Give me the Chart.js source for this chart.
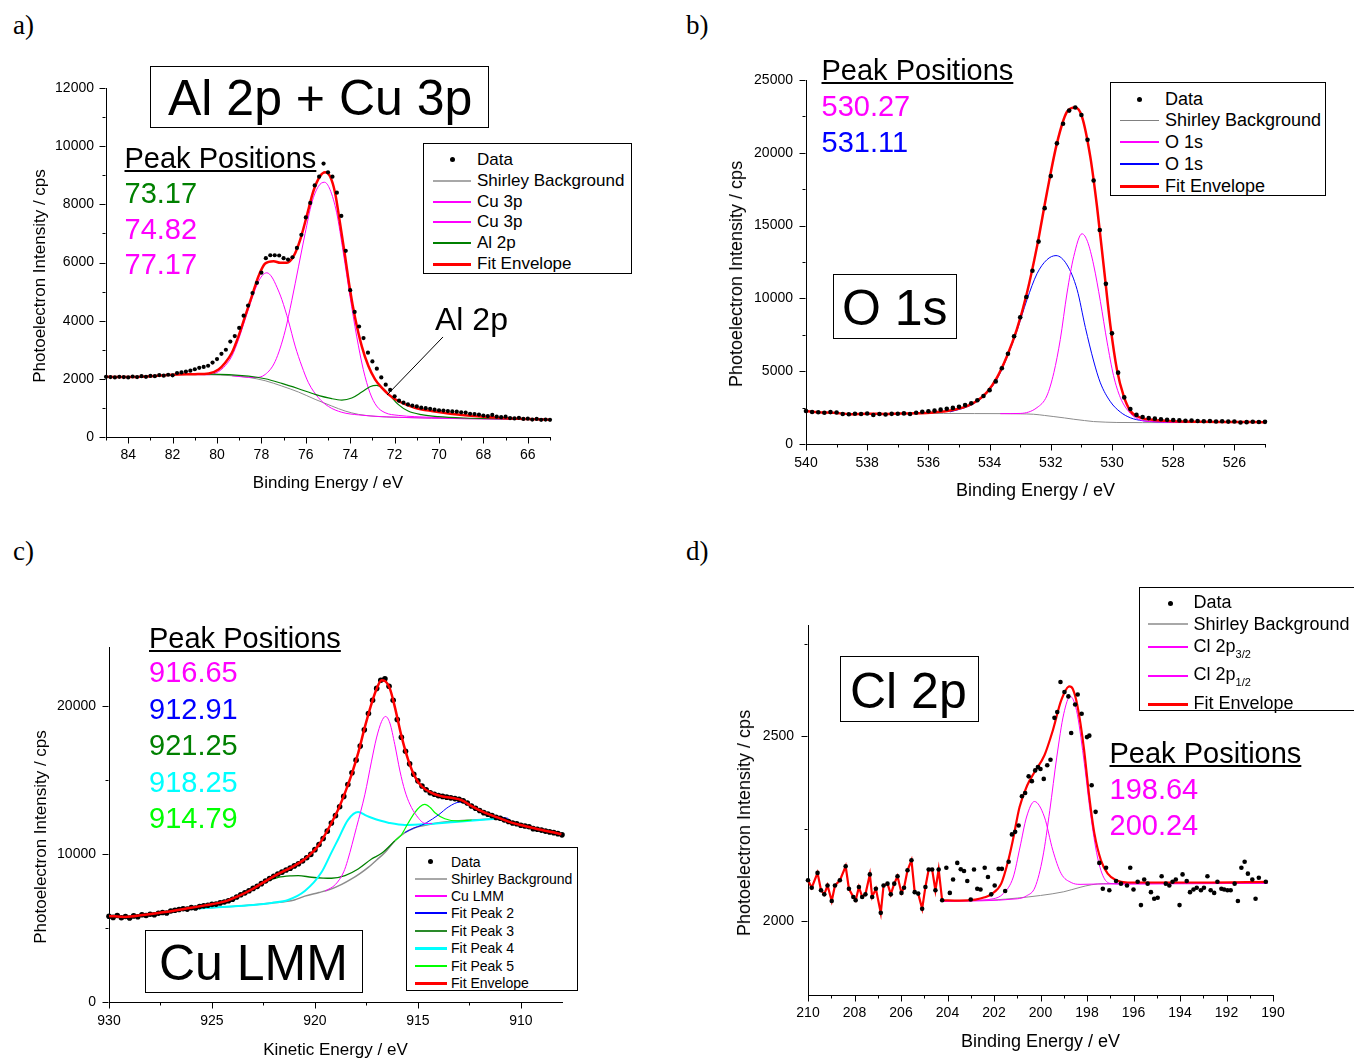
<!DOCTYPE html>
<html>
<head>
<meta charset="utf-8">
<title>XPS spectra</title>
<script src="https://cdn.jsdelivr.net/npm/chart.js@4.4.1/dist/chart.umd.min.js"></script>
<style>
  html, body { margin: 0; padding: 0; background: #fff; }
  #page { position: relative; width: 1354px; height: 1058px; overflow: hidden; background: #fff; }
  #page canvas { position: absolute; }
  .txt { position: absolute; white-space: nowrap; line-height: 1; color: #000; }
  .box { position: absolute; box-sizing: border-box; border: 1px solid #000; background: #fff; }
  .sw { position: absolute; }
  .dot { position: absolute; width: 5px; height: 5px; border-radius: 50%; background: #000; }
</style>
</head>
<body>
<div id="page"></div>
<script>
// ---------------- a) Al 2p + Cu 3p : [binding energy (eV), counts] ----------------
const aData = [
  [85.0,2070],[84.8,2060],[84.6,2050],[84.4,2070],[84.2,2060],[84.0,2050],[83.8,2080],[83.6,2060],[83.4,2090],[83.2,2070],
  [83.0,2100],[82.8,2090],[82.6,2130],[82.4,2110],[82.2,2140],[82.0,2120],[81.8,2200],[81.6,2220],[81.4,2250],[81.2,2280],
  [81.0,2330],[80.8,2380],[80.6,2410],[80.4,2450],[80.2,2560],[80.0,2680],[79.8,2860],[79.6,3000],[79.4,3280],[79.2,3470],
  [79.0,3750],[78.8,4170],[78.6,4520],[78.4,4950],[78.2,5300],[78.0,5650],[77.8,6150],[77.6,6250],[77.4,6250],[77.2,6240],
  [77.0,6150],[76.8,6100],[76.6,6180],[76.4,6500],[76.2,6950],[76.0,7550],[75.8,8050],[75.6,8650],[75.4,8950],[75.2,9400],
  [75.0,9100],[74.8,8950],[74.6,8400],[74.4,7600],[74.2,6400],[74.0,5050],[73.8,4300],[73.6,3800],[73.4,3400],[73.2,2900],
  [73.0,2600],[72.8,2350],[72.6,2050],[72.4,1800],[72.2,1620],[72.0,1400],[71.8,1250],[71.6,1180],[71.4,1120],[71.2,1080],
  [71.0,1050],[70.8,1010],[70.6,990],[70.4,970],[70.2,940],[70.0,920],[69.8,910],[69.6,890],[69.4,880],[69.2,870],
  [69.0,850],[68.8,840],[68.6,800],[68.4,790],[68.2,770],[68.0,740],[67.8,720],[67.6,760],[67.4,700],[67.2,680],
  [67.0,700],[66.8,650],[66.6,640],[66.4,660],[66.2,620],[66.0,630],[65.8,600],[65.6,620],[65.4,590],[65.2,600],[65.0,590]
];
const aEnvelope = [
  [85.0,2070],[84.0,2060],[83.0,2090],[82.0,2140],[81.0,2160],[80.37,2187],[79.93,2324],[79.63,2553],[79.33,2897],[79.03,3469],
  [78.73,4156],[78.43,4843],[78.13,5530],[77.83,5965],[77.45,6046],[77.15,5988],[76.85,5988],[76.55,6217],[76.25,6790],[75.96,7591],
  [75.66,8450],[75.36,8965],[75.13,9103],[74.91,8965],[74.68,8393],[74.46,7362],[74.23,6217],[74.01,5072],[73.78,4099],[73.48,3126],
  [73.18,2439],[72.88,1981],[72.58,1695],[72.28,1466],[71.84,1237],[71.09,1008],[70.34,893],[68.84,744],[67.34,664],[66.0,620],[65.0,590]
];
const aShirley = [
  [82.0,2150],[81.0,2145],[80.37,2141],[79.33,2107],[78.58,2050],[77.83,1935],[77.08,1752],[76.33,1546],[75.58,1294],[74.83,1065],
  [74.23,893],[73.63,779],[72.88,710],[71.84,676],[68.84,630],[65.2,607]
];
const aAl2p = [
  [82.0,2155],[80.37,2164],[78.58,2095],[77.83,2004],[77.08,1843],[76.33,1660],[75.58,1466],[74.83,1317],[74.38,1271],[73.93,1340],
  [73.48,1546],[73.11,1729],[72.81,1775],[72.51,1660],[72.21,1431],[71.84,1122],[71.39,893],[70.79,767],[70.04,698],[68.84,653],[65.2,610]
];
const aCu3pHigh = [
  [81.0,2145],[80.37,2141],[79.93,2250],[79.63,2450],[79.33,2780],[79.03,3350],[78.73,4050],[78.43,4750],[78.13,5350],[77.9,5600],
  [77.75,5645],[77.53,5500],[77.3,5150],[77.08,4729],[76.78,3985],[76.48,3126],[76.18,2439],[75.88,1866],[75.43,1350],[74.98,1050],
  [74.38,850],[73.63,760],[72.58,700],[71.84,676],[68.84,630],[65.2,607]
];
const aCu3pLow = [
  [79.33,2107],[78.58,2050],[78.28,2045],[77.83,2150],[77.38,2600],[76.93,3650],[76.63,4700],[76.33,5850],[76.03,7000],[75.73,8050],
  [75.43,8620],[75.16,8760],[74.91,8510],[74.61,7710],[74.31,6330],[74.01,4840],[73.71,3470],[73.41,2320],[73.11,1520],[72.81,1065],
  [72.43,836],[71.84,744],[71.09,700],[68.84,640],[65.2,607]
];
const aPointer = [[69.82,3440],[72.34,1445]];
const aPeakLabels = ['73.17', '74.82', '77.17'];
const aPeakColors = ['#008000', '#ff00ff', '#ff00ff'];
const aXMajor = [66, 68, 70, 72, 74, 76, 78, 80, 82, 84];
const aXMinor = [65, 67, 69, 71, 73, 75, 77, 79, 81, 83, 85];
const aYMajor = [0, 2000, 4000, 6000, 8000, 10000, 12000];
const aYMinor = [1000, 3000, 5000, 7000, 9000, 11000];

// ---------------- b) O 1s ----------------
const bData = [
  [540.0,2270],[539.8,2200],[539.6,2180],[539.4,2150],[539.2,2190],[539.0,2160],[538.8,2060],[538.6,2040],[538.4,2080],[538.2,2060],
  [538.0,2090],[537.8,1990],[537.6,2060],[537.4,2030],[537.2,2070],[537.0,2080],[536.8,2100],[536.6,2060],[536.4,2150],[536.2,2210],
  [536.0,2250],[535.8,2290],[535.6,2360],[535.4,2420],[535.2,2480],[535.0,2560],[534.8,2670],[534.6,2800],[534.4,3000],[534.2,3300],
  [534.0,3700],[533.8,4300],[533.6,5200],[533.4,6200],[533.2,7400],[533.0,8700],[532.8,10100],[532.6,11900],[532.4,13900],[532.2,16200],
  [532.0,18400],[531.8,20650],[531.6,22000],[531.4,22900],[531.2,23115],[531.0,22600],[530.8,20900],[530.6,18100],[530.4,14700],[530.2,11000],
  [530.0,7600],[529.8,4900],[529.6,3200],[529.4,2400],[529.2,2000],[529.0,1850],[528.8,1780],[528.6,1740],[528.4,1700],[528.2,1660],
  [528.0,1650],[527.8,1620],[527.6,1600],[527.4,1610],[527.2,1580],[527.0,1560],[526.8,1580],[526.6,1550],[526.4,1560],[526.2,1540],
  [526.0,1550],[525.8,1480],[525.6,1500],[525.4,1530],[525.2,1510],[525.0,1520]
];
const bEnvelope = [
  [540.0,2260],[539.6,2180],[539.1,2150],[538.56,2050],[538.0,2080],[537.47,2060],[536.9,2090],[536.38,2110],[535.83,2170],[535.29,2300],
  [534.74,2600],[534.42,2950],[534.09,3550],[533.76,4554],[533.43,6038],[533.11,7865],[532.78,10376],[532.45,13573],[532.13,17225],[531.8,20650],
  [531.47,22818],[531.2,23115],[530.98,22475],[530.71,19735],[530.49,16310],[530.27,12201],[530.05,8092],[529.84,5124],[529.62,3298],[529.4,2271],
  [529.07,1815],[528.64,1655],[528.2,1587],[527.11,1530],[526.0,1510],[525.0,1500]
];
const bShirley = [
  [536.4,2100],[535.5,2095],[534.5,2090],[533.5,2085],[533.0,2070],[532.56,2043],[532.2,1960],[531.9,1883],[531.55,1790],[531.25,1700],
  [530.9,1610],[530.6,1541],[530.2,1500],[529.84,1478],[529.0,1470],[527.0,1472],[525.0,1478]
];
const bO1sLow = [
  [533.65,2085],[533.0,2100],[532.45,2500],[532.13,3300],[531.9,4900],[531.69,7180],[531.47,10370],[531.25,12880],[530.98,14440],[530.8,13900],
  [530.6,12300],[530.38,9800],[530.16,7000],[529.95,4700],[529.73,3200],[529.4,2100],[529.07,1650],[528.64,1530],[528.0,1490],[525.0,1480]
];
const bO1sHigh = [
  [535.3,2200],[534.74,2550],[534.42,2900],[534.09,3500],[533.76,4450],[533.43,5950],[533.11,7750],[532.78,9900],[532.45,11700],[532.13,12650],
  [531.83,12940],[531.47,12300],[531.14,10600],[530.87,8000],[530.6,5700],[530.38,4200],[530.05,2900],[529.73,2200],[529.4,1800],[529.0,1600],
  [528.5,1520],[527.5,1485],[525.0,1480]
];
const bPeakLabels = ['530.27', '531.11'];
const bPeakColors = ['#ff00ff', '#0000ff'];
const bXMajor = [526, 528, 530, 532, 534, 536, 538, 540];
const bXMinor = [525, 527, 529, 531, 533, 535, 537, 539];
const bYMajor = [0, 5000, 10000, 15000, 20000, 25000];
const bYMinor = [2500, 7500, 12500, 17500, 22500];

// ---------------- c) Cu LMM : [kinetic energy (eV), counts] ----------------
const cData = [
  [930.0,5800],[929.8,5720],[929.6,5850],[929.4,5700],[929.2,5780],[929.0,5680],[928.8,5820],[928.6,5760],[928.4,5900],[928.2,5850],
  [928.0,5930],[927.8,5900],[927.6,6000],[927.4,6050],[927.2,6020],[927.0,6150],[926.8,6200],[926.6,6250],[926.4,6300],[926.2,6280],
  [926.0,6380],[925.8,6350],[925.6,6450],[925.4,6500],[925.2,6540],[925.0,6600],[924.8,6620],[924.6,6700],[924.4,6760],[924.2,6850],
  [924.0,6950],[923.8,7100],[923.6,7250],[923.4,7380],[923.2,7520],[923.0,7680],[922.8,7820],[922.6,8000],[922.4,8180],[922.2,8350],
  [922.0,8500],[921.8,8650],[921.6,8780],[921.4,8920],[921.2,9050],[921.0,9200],[920.8,9350],[920.6,9530],[920.4,9750],[920.2,9980],
  [920.0,10300],[919.8,10650],[919.6,11050],[919.4,11550],[919.2,12100],[919.0,12600],[918.8,13200],[918.6,13900],[918.4,14700],[918.2,15500],
  [918.0,16350],[917.8,17300],[917.6,18400],[917.4,19500],[917.2,20400],[917.0,21200],[916.8,21750],[916.6,21850],[916.4,21350],[916.2,20400],
  [916.0,19100],[915.8,17900],[915.6,16950],[915.4,16100],[915.2,15400],[915.0,14950],[914.8,14600],[914.6,14350],[914.4,14150],[914.2,14050],
  [914.0,13950],[913.8,13900],[913.6,13850],[913.4,13800],[913.2,13750],[913.0,13700],[912.8,13600],[912.6,13450],[912.4,13250],[912.2,13100],
  [912.0,12950],[911.8,12800],[911.6,12700],[911.4,12600],[911.2,12480],[911.0,12420],[910.8,12300],[910.6,12200],[910.4,12100],[910.2,12050],
  [910.0,11950],[909.8,11900],[909.6,11850],[909.4,11720],[909.2,11680],[909.0,11620],[908.8,11550],[908.6,11500],[908.4,11450],[908.2,11380],[908.0,11300]
];
const cEnvelope = [
  [930.0,5816],[929.22,5750],[928.25,5906],[927.28,6085],[926.3,6308],[925.34,6532],[924.37,6800],[923.72,7158],[923.07,7606],[922.43,8143],
  [921.78,8657],[921.13,9105],[920.49,9664],[919.84,10558],[919.19,12124],[918.87,13019],[918.54,14138],[918.22,15368],[917.9,16822],[917.57,18612],
  [917.25,20178],[917.0,21184],[916.76,21744],[916.6,21700],[916.36,21184],[916.12,19954],[915.79,17941],[915.47,16375],[915.15,15256],[914.82,14585],
  [914.34,14138],[913.85,13914],[913.37,13802],[912.88,13646],[912.39,13243],[911.75,12796],[911.1,12460],[910.45,12124],[909.81,11901],[909.16,11677],
  [908.51,11498],[908.03,11341]
];
const cShirley = [
  [926.5,6250],[926.3,6264],[925.0,6380],[923.72,6487],[922.1,6689],[921.0,6900],[920.49,7158],[919.8,7400],[919.19,7650],[918.7,7950],
  [918.22,8322],[917.8,8700],[917.41,9105],[917.0,9600],[916.6,10111],[916.12,10894],[915.63,11453],[915.2,11750],[914.82,11901],[914.0,12124],
  [913.0,12260],[912.39,12303],[911.5,12380],[910.78,12437]
];
const cCuLMM = [
  [919.5,7500],[919.0,7950],[918.6,8800],[918.41,9574],[917.98,11811],[917.57,14048],[917.25,16285],[917.01,17851],[916.76,18969],[916.57,19305],
  [916.36,18857],[916.12,17403],[915.87,15614],[915.63,14272],[915.39,13377],[915.06,12594],[914.66,12079],[914.3,12060]
];
const cPeak2 = [
  [915.63,11453],[915.2,11760],[914.82,11950],[914.58,12124],[914.0,12650],[913.5,13200],[912.96,13512],[912.39,13243],[911.75,12840],[911.1,12527],[910.61,12415]
];
const cPeak3 = [
  [925.5,6400],[924.37,6800],[923.72,7158],[923.07,7606],[922.43,8100],[921.78,8420],[921.13,8530],[920.81,8545],[920.16,8433],[919.6,8380],
  [919.19,8366],[918.54,8545],[917.9,8993],[917.25,9664],[916.76,10050],[916.12,10894]
];
const cPeak4 = [
  [926.3,6264],[924.5,6420],[923.0,6560],[922.1,6700],[921.3,6900],[920.49,7500],[919.68,8769],[919.2,10100],[918.87,11006],[918.4,12300],
  [917.9,12840],[917.5,12600],[917.25,12460],[916.8,12250],[916.44,12124],[915.63,11968],[914.66,12013],[913.2,12169],[912.0,12300],[910.78,12437]
];
const cPeak5 = [
  [916.12,10894],[915.8,11300],[915.47,12100],[915.15,12800],[914.9,13200],[914.66,13355],[914.4,13150],[914.17,12796],[913.69,12393],[913.04,12236],[912.39,12303]
];
const cPeakLabels = ['916.65', '912.91', '921.25', '918.25', '914.79'];
const cPeakColors = ['#ff00ff', '#0000ff', '#008000', '#00ffff', '#00ff00'];
const cXMajor = [910, 915, 920, 925, 930];
const cXMinor = [912.5, 917.5, 922.5, 927.5];
const cYMajor = [0, 10000, 20000];
const cYMinor = [5000, 15000];

// ---------------- d) Cl 2p ----------------
const dData = [
  [210.0,2110],[209.84,2090],[209.59,2130],[209.44,2083],[209.3,2072],[209.16,2096],[208.98,2054],[208.84,2096],[208.63,2110],[208.38,2148],
  [208.24,2087],[208.05,2065],[207.95,2056],[207.81,2092],[207.67,2065],[207.53,2072],[207.34,2126],[207.24,2065],[207.08,2087],[206.87,2022],
  [206.75,2096],[206.58,2101],[206.44,2072],[206.29,2101],[206.15,2121],[205.98,2076],[205.87,2090],[205.72,2137],[205.55,2164],[205.41,2078],
  [205.26,2074],[205.09,2033],[204.95,2092],[204.81,2139],[204.66,2139],[204.52,2083],[204.38,2139],[204.23,2056],
  [204.05,2144],[203.9,2076],[203.76,2112],[203.58,2157],[203.43,2140],[203.29,2135],[203.15,2108],[203.0,2058],[202.86,2139],[202.72,2087],
  [202.58,2085],[202.4,2144],[202.26,2119],[202.12,2072],[201.97,2096],[201.8,2141],[201.66,2141],[201.52,2081],[201.37,2160],[201.23,2234],
  [201.09,2241],[200.94,2258],[200.8,2337],[200.66,2346],[200.51,2391],[200.37,2378],[200.23,2407],[200.11,2416],[200.0,2411],[199.86,2384],
  [199.71,2421],[199.57,2436],[199.4,2549],[199.28,2565],[199.14,2646],[198.97,2619],[198.8,2607],[198.68,2508],[198.51,2585],[198.4,2612],
  [198.23,2560],[198.0,2497],[197.9,2501],[197.8,2367],[197.63,2295],[197.47,2157],[197.32,2087],[197.18,2144],[197.04,2083],[196.75,2108],
  [196.54,2101],[196.28,2096],[196.14,2144],[196.0,2085],[195.82,2106],[195.68,2043],[195.54,2112],[195.39,2101],[195.25,2078],[195.11,2060],
  [194.96,2063],[194.79,2121],[194.61,2101],[194.46,2096],[194.32,2106],[194.18,2112],[194.02,2043],[193.89,2126],[193.71,2108],[193.57,2078],
  [193.42,2085],[193.28,2090],[193.1,2083],[192.97,2090],[192.82,2121],[192.68,2083],[192.53,2076],[192.39,2106],[192.22,2087],[192.1,2085],
  [191.96,2083],[191.82,2083],[191.65,2101],[191.51,2054],[191.36,2144],[191.22,2160],[191.08,2128],[190.89,2112],[190.75,2060],[190.61,2117],[190.31,2106]
];
const dFitStart = 204.23;   // the envelope follows the raw counts above this energy
const dEnvelopeFit = [
  [204.23,2056],[203.5,2055],[202.8,2058],[202.4,2064],[202.12,2072],[201.69,2101],[201.4,2160],[201.19,2218],[200.9,2308],[200.57,2367],
  [200.26,2402],[199.83,2448],[199.47,2515],[199.11,2596],[198.76,2634],[198.61,2627],[198.4,2578],[198.14,2470],[197.9,2335],[197.68,2236],
  [197.4,2164],[197.11,2128],[196.75,2110],[196.25,2104],[193.0,2104],[190.24,2106]
];
const dShirley = [
  [204.23,2053],[202.0,2057],[201.0,2062],[200.0,2069],[199.0,2079],[198.3,2091],[197.8,2098],[197.3,2101],[190.24,2102]
];
const dCl2p32 = [
  [204.23,2053],[201.0,2060],[200.6,2068],[200.23,2092],[199.9,2173],[199.6,2299],[199.3,2443],[199.0,2560],[198.72,2607],[198.45,2569],
  [198.15,2443],[197.85,2290],[197.55,2173],[197.25,2114],[196.9,2101],[196.4,2100],[190.24,2102]
];
const dCl2p12 = [
  [204.23,2053],[202.9,2056],[202.04,2060],[201.6,2074],[201.17,2119],[200.88,2200],[200.6,2281],[200.26,2323],[199.83,2281],[199.47,2191],
  [199.11,2128],[198.68,2104],[198.3,2099],[197.5,2100],[190.24,2102]
];
const dPeakLabels = ['198.64', '200.24'];
const dPeakColors = ['#ff00ff', '#ff00ff'];
const dXMajor = [190, 192, 194, 196, 198, 200, 202, 204, 206, 208, 210];
const dXMinor = [191, 193, 195, 197, 199, 201, 203, 205, 207, 209];
const dYMajor = [2000, 2500];
const dYMinor = [2250, 2750];

// ---------------- drawing ----------------
const SANS = "'Liberation Sans', Arial, Helvetica, sans-serif";
const SERIF = "'Liberation Serif', 'Times New Roman', serif";
const RED = '#ff0000', GRAY = '#8c8c8c', MAGENTA = '#ff00ff', BLUE = '#0000ff',
      DKGREEN = '#008000', CYAN = '#00ffff', LTGREEN = '#00ff00';
const page = document.getElementById('page');

const toXY = arr => arr.map(([x, y]) => ({ x, y }));

function curve(arr, color, width, order) {
  return { data: toXY(arr), borderColor: color, backgroundColor: color, borderWidth: width,
           pointRadius: 0, cubicInterpolationMode: 'monotone', fill: false, order, clip: false };
}
function polyline(arr, color, width, order) {
  return { data: toXY(arr), borderColor: color, backgroundColor: color, borderWidth: width,
           pointRadius: 0, tension: 0, fill: false, order, clip: false };
}
function dots(arr, radius, order) {
  return { data: toXY(arr), showLine: false, pointRadius: radius, pointBorderWidth: 0,
           pointBackgroundColor: '#000', pointBorderColor: '#000', order, clip: false };
}

// outward tick marks, long for labelled ticks and short for the others
const tickMarks = {
  id: 'tickMarks',
  afterDraw(chart, args, opts) {
    const { ctx, chartArea: ca } = chart;
    const sx = chart.scales.x, sy = chart.scales.y;
    const xb = Math.round(ca.bottom) + 0.5, yl = Math.round(ca.left) - 0.5;
    ctx.save();
    ctx.strokeStyle = '#000';
    ctx.lineWidth = 1;
    ctx.beginPath();
    sx.ticks.forEach(t => {
      const p = Math.round(sx.getPixelForValue(t.value)) + 0.5;
      const len = opts.xMajor.includes(t.value) ? 6 : 3;
      ctx.moveTo(p, xb); ctx.lineTo(p, xb + len);
    });
    sy.ticks.forEach(t => {
      const p = Math.round(sy.getPixelForValue(t.value)) + 0.5;
      const len = opts.yMajor.includes(t.value) ? 6 : 3;
      ctx.moveTo(yl, p); ctx.lineTo(yl - len, p);
    });
    ctx.stroke();
    ctx.restore();
  }
};

// thin pointer line from a label to a peak, given in data coordinates
const pointerLine = {
  id: 'pointerLine',
  afterDatasetsDraw(chart, args, opts) {
    const pts = opts.points;
    if (!pts) return;
    const sx = chart.scales.x, sy = chart.scales.y, ctx = chart.ctx;
    ctx.save();
    ctx.strokeStyle = '#000';
    ctx.lineWidth = 1;
    ctx.beginPath();
    ctx.moveTo(sx.getPixelForValue(pts[0][0]), sy.getPixelForValue(pts[0][1]));
    ctx.lineTo(sx.getPixelForValue(pts[1][0]), sy.getPixelForValue(pts[1][1]));
    ctx.stroke();
    ctx.restore();
  }
};

function makeChart(g, ax, datasets, extraPlugins, pluginOpts) {
  const cv = document.createElement('canvas');
  cv.width = g.cw; cv.height = g.ch;
  Object.assign(cv.style, { left: g.cx + 'px', top: g.cy + 'px', width: g.cw + 'px', height: g.ch + 'px' });
  page.appendChild(cv);
  const xTicks = ax.xMajor.concat(ax.xMinor).sort((a, b) => a - b);
  const yTicks = ax.yMajor.concat(ax.yMinor).sort((a, b) => a - b);
  const tickFont = { family: SANS, size: 14 };
  const hiddenGrid = { display: true, drawOnChartArea: false, drawTicks: true, tickLength: 6,
                       tickColor: 'rgba(0,0,0,0)', color: 'rgba(0,0,0,0)' };
  return new Chart(cv, {
    type: 'line',
    data: { datasets },
    options: {
      responsive: false, animation: false, events: [], devicePixelRatio: 1,
      layout: { padding: { left: 0, top: g.T - g.cy, right: g.cx + g.cw - g.R, bottom: 0 } },
      plugins: Object.assign({
        legend: { display: false }, tooltip: { enabled: false },
        tickMarks: { xMajor: ax.xMajor, yMajor: ax.yMajor }
      }, pluginOpts || {}),
      scales: {
        x: {
          type: 'linear', reverse: true, min: ax.xMin, max: ax.xMax,
          afterBuildTicks: s => { s.ticks = xTicks.map(v => ({ value: v })); },
          afterFit: s => { s.height = g.cy + g.ch - g.B; },
          ticks: { autoSkip: false, maxRotation: 0, minRotation: 0, padding: ax.xPad, color: '#000', font: tickFont,
                   callback: v => ax.xMajor.includes(v) ? String(v) : '' },
          grid: hiddenGrid,
          border: { display: true, color: '#000', width: 1 },
          title: { display: false }
        },
        y: {
          type: 'linear', min: ax.yMin, max: ax.yMax,
          afterBuildTicks: s => { s.ticks = yTicks.map(v => ({ value: v })); },
          afterFit: s => { s.width = g.L - g.cx; },
          ticks: { autoSkip: false, padding: ax.yPad, color: '#000', font: tickFont,
                   callback: v => ax.yMajor.includes(v) ? String(v) : '' },
          grid: hiddenGrid,
          border: { display: true, color: '#000', width: 1 },
          title: { display: false }
        }
      }
    },
    plugins: [tickMarks].concat(extraPlugins || [])
  });
}

// ---- text helpers (positions are baselines) ----
function addText(html, x, base, size, o = {}) {
  const d = document.createElement('div');
  d.className = 'txt';
  d.innerHTML = html;
  const asc = o.serif ? 0.8375 : 0.8465;
  Object.assign(d.style, { left: x + 'px', top: (base - asc * size) + 'px', fontSize: size + 'px',
                           fontFamily: o.serif ? SERIF : SANS, color: o.color || '#000' });
  if (o.underline) { d.style.textDecoration = 'underline'; d.style.textDecorationThickness = '2px'; d.style.textUnderlineOffset = '2px'; }
  if (o.center) d.style.transform = 'translateX(-50%)';
  page.appendChild(d);
  return d;
}
function addVTitle(str, cx, cy, size) {
  const d = document.createElement('div');
  d.className = 'txt';
  d.textContent = str;
  Object.assign(d.style, { left: cx + 'px', top: cy + 'px', fontSize: size + 'px', fontFamily: SANS,
                           transform: 'translate(-50%, -50%) rotate(-90deg)' });
  page.appendChild(d);
}
function addBox(l, t, r, b) {
  const d = document.createElement('div');
  d.className = 'box';
  Object.assign(d.style, { left: l + 'px', top: t + 'px', width: (r - l) + 'px', height: (b - t) + 'px' });
  page.appendChild(d);
}
function addLegend(box, sw, rows, size) {
  addBox(box[0], box[1], box[2], box[3]);
  rows.forEach(r => {
    if (r.kind === 'dot') {
      const d = document.createElement('div');
      d.className = 'dot';
      Object.assign(d.style, { left: (sw.dot - 2.5) + 'px', top: (r.y - 2.5) + 'px' });
      page.appendChild(d);
    } else {
      const d = document.createElement('div');
      d.className = 'sw';
      Object.assign(d.style, { left: sw.x1 + 'px', top: Math.round(r.y - r.w / 2) + 'px', width: (sw.x2 - sw.x1) + 'px',
                               height: r.w + 'px', background: r.color });
      page.appendChild(d);
    }
    addText(r.label, sw.text, r.base, size);
  });
}
function addPeakList(x, bases, labels, colors) {
  addText('Peak Positions', x, bases[0], 29, { underline: true });
  labels.forEach((s, i) => addText(s, x, bases[i + 1], 29, { color: colors[i] }));
}

// ---------------- panel a ----------------
makeChart({ cx: 0, cy: 60, cw: 600, ch: 450, L: 106, T: 88, R: 550, B: 437 },
  { xMin: 65, xMax: 85, yMin: 0, yMax: 12000, xMajor: aXMajor, xMinor: aXMinor, yMajor: aYMajor, yMinor: aYMinor, xPad: 4, yPad: 6 },
  [
    dots(aData, 2.1, 0),
    curve(aEnvelope, RED, 2.5, 1),
    curve(aAl2p, DKGREEN, 1.2, 2),
    curve(aCu3pHigh, MAGENTA, 1, 3),
    curve(aCu3pLow, MAGENTA, 1, 4),
    curve(aShirley, GRAY, 1, 5)
  ], [pointerLine], { pointerLine: { points: aPointer } });

// ---------------- panel b ----------------
makeChart({ cx: 690, cy: 55, cw: 620, ch: 455, L: 806, T: 80, R: 1265, B: 444 },
  { xMin: 525, xMax: 540, yMin: 0, yMax: 25000, xMajor: bXMajor, xMinor: bXMinor, yMajor: bYMajor, yMinor: bYMinor, xPad: 5, yPad: 7 },
  [
    dots(bData, 2.3, 0),
    curve(bEnvelope, RED, 2.5, 1),
    curve(bO1sLow, MAGENTA, 1, 2),
    curve(bO1sHigh, BLUE, 1, 3),
    curve(bShirley, GRAY, 1, 4)
  ]);

// ---------------- panel c ----------------
makeChart({ cx: 0, cy: 620, cw: 600, ch: 438, L: 109, T: 647, R: 562, B: 1002 },
  { xMin: 908, xMax: 930, yMin: 0, yMax: 24000, xMajor: cXMajor, xMinor: cXMinor, yMajor: cYMajor, yMinor: cYMinor, xPad: 5, yPad: 7 },
  [
    curve(cEnvelope, RED, 2.5, 0),
    dots(cData, 2.8, 1),
    curve(cCuLMM, MAGENTA, 1, 2),
    curve(cPeak2, BLUE, 1, 3),
    curve(cPeak5, LTGREEN, 1.2, 4),
    curve(cPeak4, CYAN, 2, 5),
    curve(cPeak3, DKGREEN, 1.3, 6),
    curve(cShirley, GRAY, 1.5, 7)
  ]);

// ---------------- panel d ----------------
const dEnvelopeRaw = dData.filter(p => p[0] >= dFitStart);
makeChart({ cx: 690, cy: 600, cw: 640, ch: 458, L: 808, T: 625, R: 1273, B: 995 },
  { xMin: 190, xMax: 210, yMin: 1800, yMax: 2800, xMajor: dXMajor, xMinor: dXMinor, yMajor: dYMajor, yMinor: dYMinor, xPad: 4, yPad: 8 },
  [
    dots(dData, 2.3, 0),
    polyline(dEnvelopeRaw, RED, 2.2, 1),
    curve(dEnvelopeFit, RED, 2.2, 2),
    curve(dCl2p32, MAGENTA, 1, 3),
    curve(dCl2p12, MAGENTA, 1, 4),
    curve(dShirley, GRAY, 1, 5)
  ]);

// ---------------- panel letters ----------------
addText('a)', 13, 34.5, 27, { serif: true });
addText('b)', 686, 34.5, 27, { serif: true });
addText('c)', 13, 561, 27, { serif: true });
addText('d)', 686, 561, 27, { serif: true });

// ---------------- axis titles ----------------
addVTitle('Photoelectron Intensity / cps', 38.5, 276, 17);
addText('Binding Energy / eV', 328, 488, 17, { center: true });
addVTitle('Photoelectron Intensity / cps', 735.5, 274, 18);
addText('Binding Energy / eV', 1035.5, 496.7, 18, { center: true });
addVTitle('Photoelectron Intensity / cps', 39.5, 836.5, 17);
addText('Kinetic Energy / eV', 335.5, 1055, 17, { center: true });
addVTitle('Photoelectron Intensity / cps', 744, 822.5, 18);
addText('Binding Energy / eV', 1040.5, 1047.3, 18, { center: true });

// ---------------- framed spectrum names ----------------
addBox(150, 66, 489, 128);  addText('Al 2p + Cu 3p', 168, 115, 50);
addBox(833, 274, 957, 339); addText('O 1s', 842, 325, 50);
addBox(145, 930, 363, 993); addText('Cu LMM', 159, 980, 50);
addBox(840, 656, 979, 722); addText('Cl 2p', 850, 708, 50);

// ---------------- peak position lists ----------------
addPeakList(124.5, [168.3, 203.3, 239.3, 274.3], aPeakLabels, aPeakColors);
addPeakList(821.5, [80.7, 116.7, 152.7], bPeakLabels, bPeakColors);
addPeakList(149, [648.3, 682.7, 719.3, 755.7, 792.3, 828.3], cPeakLabels, cPeakColors);
addPeakList(1109.5, [764, 800, 836], dPeakLabels, dPeakColors);

// Al 2p callout
addText('Al 2p', 435, 330, 32);

// ---------------- legends ----------------
addLegend([423, 143, 632, 274], { x1: 433, x2: 471, dot: 452, text: 477 }, [
  { kind: 'dot', y: 159, base: 165, label: 'Data' },
  { y: 180.7, base: 186.5, w: 2, color: '#a8a8a8', label: 'Shirley Background' },
  { y: 201.7, base: 207.3, w: 2, color: MAGENTA, label: 'Cu 3p' },
  { y: 221.7, base: 227.5, w: 2, color: MAGENTA, label: 'Cu 3p' },
  { y: 242.7, base: 248.5, w: 2, color: DKGREEN, label: 'Al 2p' },
  { y: 264, base: 269.5, w: 3, color: RED, label: 'Fit Envelope' }
], 17);

addLegend([1110, 82, 1326, 196], { x1: 1120, x2: 1159, dot: 1139, text: 1165 }, [
  { kind: 'dot', y: 99.3, base: 105.5, label: 'Data' },
  { y: 120, base: 126.2, w: 1, color: '#808080', label: 'Shirley Background' },
  { y: 142.3, base: 148.5, w: 2, color: MAGENTA, label: 'O 1s' },
  { y: 164.3, base: 170.5, w: 2, color: BLUE, label: 'O 1s' },
  { y: 186, base: 192.2, w: 3, color: RED, label: 'Fit Envelope' }
], 18);

addLegend([406, 847, 578, 991], { x1: 415, x2: 447, dot: 430, text: 451 }, [
  { kind: 'dot', y: 861.7, base: 866.5, label: 'Data' },
  { y: 879.3, base: 884.1, w: 2, color: '#a8a8a8', label: 'Shirley Background' },
  { y: 896, base: 900.8, w: 2, color: MAGENTA, label: 'Cu LMM' },
  { y: 913.3, base: 918.1, w: 2, color: BLUE, label: 'Fit Peak 2' },
  { y: 931, base: 935.8, w: 2, color: '#2a8a2a', label: 'Fit Peak 3' },
  { y: 948.3, base: 953.1, w: 3, color: CYAN, label: 'Fit Peak 4' },
  { y: 966, base: 970.8, w: 2, color: LTGREEN, label: 'Fit Peak 5' },
  { y: 983.3, base: 988.1, w: 3, color: RED, label: 'Fit Envelope' }
], 14);

const SUB = s => '<span style="font-size:11px;position:relative;top:6px;">' + s + '</span>';
addLegend([1139, 587, 1360, 711], { x1: 1148, x2: 1188, dot: 1170, text: 1193.5 }, [
  { kind: 'dot', y: 603.3, base: 608.5, label: 'Data' },
  { y: 624.3, base: 630.7, w: 2, color: '#a8a8a8', label: 'Shirley Background' },
  { y: 647.3, base: 652.7, w: 2, color: MAGENTA, label: 'Cl 2p' + SUB('3/2') },
  { y: 676, base: 680.7, w: 2, color: MAGENTA, label: 'Cl 2p' + SUB('1/2') },
  { y: 704.3, base: 709, w: 3, color: RED, label: 'Fit Envelope' }
], 18);
</script>
</body>
</html>
